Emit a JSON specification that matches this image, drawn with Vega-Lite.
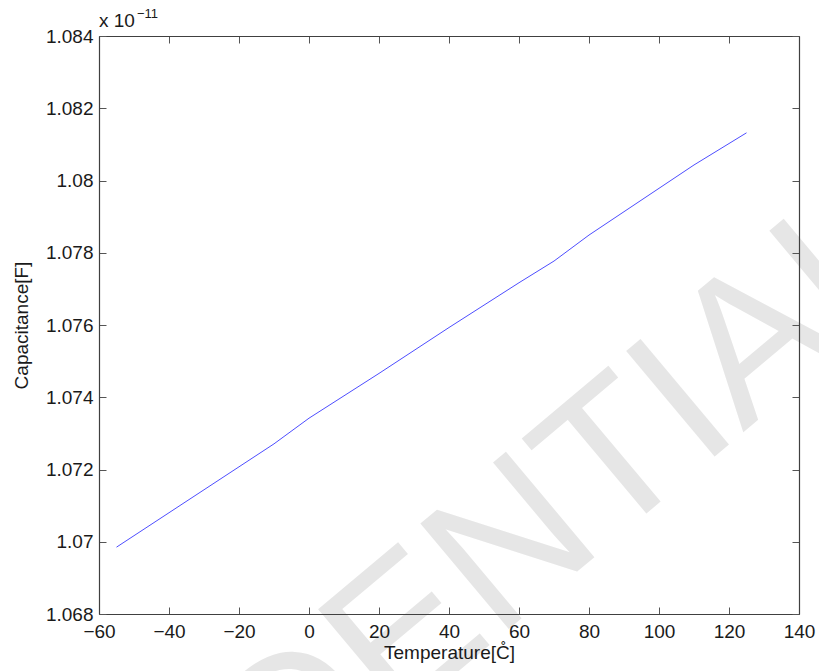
{
  "$schema": "https://vega.github.io/schema/vega-lite/v6.json",
  "width": 700,
  "height": 578,
  "autosize": {"type": "none"},
  "padding": {"left": 99, "top": 36, "right": 20, "bottom": 57},
  "background": "white",
  "config": {
    "view": {"stroke": null},
    "axis": {
      "labelFont": "Liberation Sans",
      "titleFont": "Liberation Sans",
      "labelFontSize": 19,
      "titleFontSize": 19,
      "titleFontWeight": "normal",
      "labelColor": "#1a1a1a",
      "titleColor": "#1a1a1a",
      "domainColor": "#404040",
      "tickColor": "#555555",
      "tickSize": -7,
      "domainWidth": 1.2,
      "tickWidth": 1,
      "labelFlush": false,
      "labelOverlap": false,
      "grid": false
    }
  },
  "datasets": {
    "cap": [
      {"temperature": -55, "capacitance": 1.06985e-11},
      {"temperature": -10, "capacitance": 1.07271e-11},
      {"temperature": 0, "capacitance": 1.07342e-11},
      {"temperature": 20, "capacitance": 1.07466e-11},
      {"temperature": 40, "capacitance": 1.07593e-11},
      {"temperature": 60, "capacitance": 1.07717e-11},
      {"temperature": 70, "capacitance": 1.07777e-11},
      {"temperature": 80, "capacitance": 1.07849e-11},
      {"temperature": 110, "capacitance": 1.08043e-11},
      {"temperature": 125, "capacitance": 1.08132e-11}
    ],
    "one": [{}]
  },
  "layer": [
    {
      "data": {"name": "one"},
      "mark": {"type": "text", "text": "CONFIDENTIAL", "font": "Liberation Sans", "fontSize": 200, "color": "#e6e6e6", "angle": 320, "align": "center", "baseline": "middle"},
      "encoding": {
        "x": {"datum": 6, "type": "quantitative", "scale": {"domain": [-60, 140], "nice": false, "zero": false}, "axis": null},
        "y": {"datum": 1.0656e-11, "type": "quantitative", "scale": {"domain": [1.068e-11, 1.084e-11], "nice": false, "zero": false}, "axis": null}
      }
    },
    {
      "data": {"name": "cap"},
      "mark": {"type": "line", "stroke": "#0000ff", "strokeWidth": 0.7},
      "encoding": {
        "x": {
          "field": "temperature", "type": "quantitative",
          "scale": {"domain": [-60, 140], "nice": false, "zero": false},
          "axis": {"orient": "bottom", "zindex": 2, "values": [-60, -40, -20, 0, 20, 40, 60, 80, 100, 120, 140], "title": "Temperature[C̊]", "labelPadding": 15, "titlePadding": 2}
        },
        "y": {
          "field": "capacitance", "type": "quantitative",
          "scale": {"domain": [1.068e-11, 1.084e-11], "nice": false, "zero": false},
          "axis": {"orient": "left", "zindex": 2, "values": [1.068e-11, 1.07e-11, 1.072e-11, 1.074e-11, 1.076e-11, 1.078e-11, 1.08e-11, 1.082e-11, 1.084e-11], "labelExpr": "format(datum.value * 1e11, '.3~f')", "title": "Capacitance[F]", "labelPadding": 13, "titlePadding": 14}
        }
      }
    },
    {
      "data": {"name": "cap"},
      "mark": {"type": "line", "opacity": 0},
      "encoding": {
        "x": {
          "field": "temperature", "type": "quantitative",
          "scale": {"domain": [-60, 140], "nice": false, "zero": false},
          "axis": {"orient": "top", "zindex": 2, "values": [-60, -40, -20, 0, 20, 40, 60, 80, 100, 120, 140], "labels": false, "title": null}
        },
        "y": {
          "field": "capacitance", "type": "quantitative",
          "scale": {"domain": [1.068e-11, 1.084e-11], "nice": false, "zero": false},
          "axis": {"orient": "right", "zindex": 2, "values": [1.068e-11, 1.07e-11, 1.072e-11, 1.074e-11, 1.076e-11, 1.078e-11, 1.08e-11, 1.082e-11, 1.084e-11], "labels": false, "title": null}
        }
      }
    },
    {
      "data": {"name": "one"},
      "mark": {"type": "text", "text": "x 10", "font": "Liberation Sans", "fontSize": 19, "color": "#1a1a1a", "align": "left", "baseline": "alphabetic", "dy": -9},
      "encoding": {
        "x": {"datum": -60, "type": "quantitative", "scale": {"domain": [-60, 140], "nice": false, "zero": false}, "axis": null},
        "y": {"datum": 1.084e-11, "type": "quantitative", "scale": {"domain": [1.068e-11, 1.084e-11], "nice": false, "zero": false}, "axis": null}
      }
    },
    {
      "data": {"name": "one"},
      "mark": {"type": "text", "text": "−11", "font": "Liberation Sans", "fontSize": 13, "color": "#1a1a1a", "align": "left", "baseline": "alphabetic", "dx": 38, "dy": -18},
      "encoding": {
        "x": {"datum": -60, "type": "quantitative", "scale": {"domain": [-60, 140], "nice": false, "zero": false}, "axis": null},
        "y": {"datum": 1.084e-11, "type": "quantitative", "scale": {"domain": [1.068e-11, 1.084e-11], "nice": false, "zero": false}, "axis": null}
      }
    }
  ],
  "resolve": {"axis": {"x": "independent", "y": "independent"}}
}
